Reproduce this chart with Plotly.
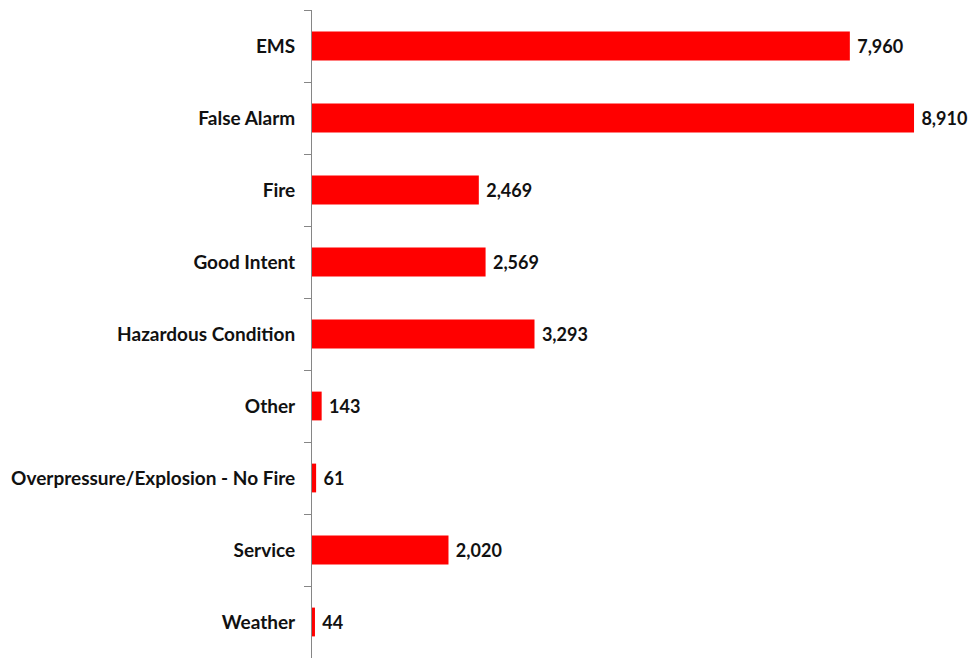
import plotly.graph_objects as go

categories = ['EMS', 'False Alarm', 'Fire', 'Good Intent', 'Hazardous Condition',
              'Other', 'Overpressure/Explosion - No Fire', 'Service', 'Weather']
counts = [7960, 8910, 2469, 2569, 3293, 143, 61, 2020, 44]

fig = go.Figure()

fig.add_trace(go.Bar(
    x=counts,
    y=categories,
    orientation='h',
    width=0.4,
    marker=dict(color='#ff0000', line=dict(width=0)),
    text=[' ' + f'{v:,}' for v in counts],
    textposition='outside',
    cliponaxis=False,
    textfont=dict(family='Lato', size=18, color='#111111', weight='bold'),
))

fig.update_layout(
    width=972, height=658,
    margin=dict(l=312, r=0, t=10, b=0, autoexpand=False),
    plot_bgcolor='white', paper_bgcolor='white',
    showlegend=False,
    xaxis=dict(range=[0, 9768], visible=False),
    yaxis=dict(
        autorange='reversed',
        automargin=False,
        showline=True, linecolor='#868686', linewidth=1,
        ticks='outside', tickson='boundaries', ticklen=7, tickcolor='#868686',
        tickfont=dict(family='Lato', size=19, color='#111111', weight='bold'),
        ticklabelstandoff=12,
        showgrid=False,
    ),
)

# drop the default body margin so the page has no scrollbars
fig.write_html("out.html", config={'displayModeBar': False},
               post_script="document.body.style.margin='0';")
